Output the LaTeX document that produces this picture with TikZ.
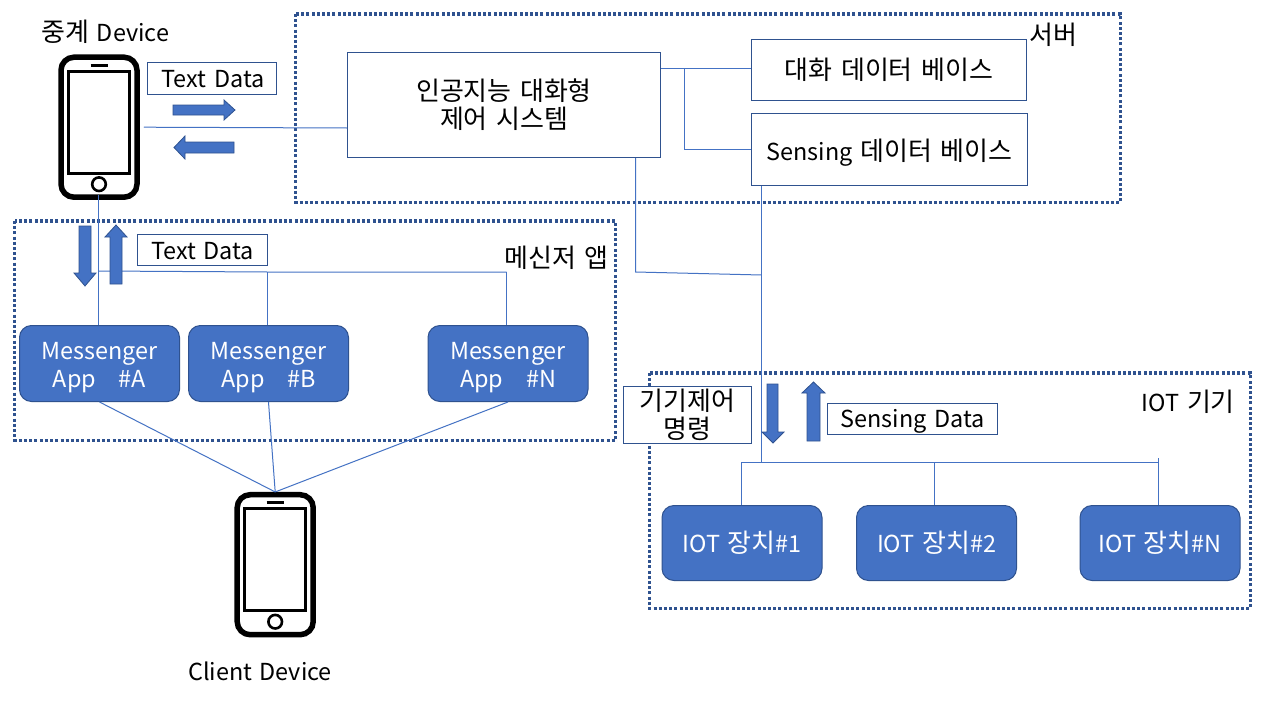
\documentclass[tikz,border=0pt]{standalone}
\usepackage{fontspec}
\setmainfont{Noto Sans CJK KR}[WordSpace=1.45]
\newfontfamily\kofont{Noto Sans CJK KR}[Scale=1.11,WordSpace=1.45]
\newcommand{\ko}[1]{{\kofont #1}}
\newcommand{\dn}[2][2]{\raisebox{-#1pt}[\height][\depth]{#2}}
\definecolor{fillblue}{HTML}{4472C4}
\definecolor{edgeblue}{HTML}{2F528F}
\tikzset{
  frame/.style={draw=edgeblue,line width=3.2pt,dash pattern=on 3pt off 2.2pt},
  conn/.style={draw=fillblue,line width=1pt},
  label/.style={inner sep=0pt,font=\fontsize{23.4}{28}\selectfont,text=black,align=center},
  whitebox/.style={draw=edgeblue,line width=1pt,fill=white,inner sep=0pt,font=\fontsize{23.4}{28}\selectfont,align=center,text=black},
  bluebox/.style={draw=edgeblue,line width=1pt,fill=fillblue,rounded corners=12pt,inner sep=0pt,minimum width=160pt,minimum height=76pt,font=\fontsize{23.4}{28}\selectfont,text=white,align=center},
  blockarrow/.style={draw=edgeblue,line width=0.8pt,fill=fillblue},
  phonebody/.style={draw=black,line width=5.5pt,rounded corners=13pt,minimum width=76pt,minimum height=140pt,inner sep=0pt,fill=white},
  phonepart/.style={draw=black,line width=2.6pt}
}
\newcommand{\phonedetail}[1]{%
  \draw[phonepart] ([shift={(-30.5,-56)}]#1.center) rectangle ([shift={(30.5,46)}]#1.center);
  \draw[phonepart] ([shift={(0,57)}]#1.center) circle (6.8pt);
  \draw[phonepart] ([shift={(-8.5,-62)}]#1.center) -- ([shift={(8.5,-62)}]#1.center);
}
\begin{document}
\begin{tikzpicture}[x=1pt,y=-1pt]
\useasboundingbox (0,0) rectangle (1280,720);
\fill[white] (0,0) rectangle (1280,720);
% frames
\draw[frame] (295.8,13.9) rectangle (1120.3,202.4);
\draw[frame] (14.8,220.9) rectangle (615.3,440.4);
\draw[frame] (649.8,372.9) rectangle (1250.3,608.4);
% phones
\node[phonebody] (phoneA) at (99,127.2) {};
\phonedetail{phoneA}
\node[phonebody] (phoneB) at (275.2,564.7) {};
\phonedetail{phoneB}
% boxes
\begin{scope}[shift={(0.5,0.5)}]
\node[whitebox,minimum width=313pt,minimum height=105pt] (ai) at (503.5,104.5) {\ko{인공지능 대화형}\\\ko{제어 시스템}};
\node[whitebox,minimum width=275pt,minimum height=61pt] (chatdb) at (888.5,69.5) {\ko{대화 데이터 베이스}};
\node[whitebox,minimum width=276pt,minimum height=72pt] (sensedb) at (889,149) {\dn[3]{Sensing \ko{데이터 베이스}}};
\node[bluebox] (mA) at (99,363) {\dn[3.8]{Messenger}\\\dn[3.8]{App \ \ \#A}};
\node[bluebox] (mB) at (268,363) {\dn[3.8]{Messenger}\\\dn[3.8]{App \ \ \#B}};
\node[bluebox] (mN) at (507.5,363) {\dn[3.8]{Messenger}\\\dn[3.8]{App \ \ \#N}};
\node[bluebox,minimum height=75pt] (iot1) at (741.5,542.5) {\dn[0]{IOT \ko{장치}\#1}};
\node[bluebox,minimum height=75pt] (iot2) at (936,542.5) {\dn[0]{IOT \ko{장치}\#2}};
\node[bluebox,minimum height=75pt] (iotN) at (1159.5,542.5) {\dn[0]{IOT \ko{장치}\#N}};
\end{scope}
% junctions
\coordinate (busA) at (98.5,271);
\coordinate (busB) at (267.5,272);
\coordinate (busN) at (506.5,272);
\coordinate (aiDown) at (635.5,272);
\coordinate (aiJoin) at (761.5,275);
\coordinate (dbFork) at (684.5,68);
\coordinate (dbElbow) at (684.5,149);
\coordinate (iotBus1) at (741.5,462);
\coordinate (iotBus2) at (934.5,462);
\coordinate (iotBusN) at (1158.5,462);
\coordinate (iotEnd) at (761.5,463);
% connectors
\draw[conn] ([xshift=4pt]phoneA.east) -- (ai.west |- 0,128);
\draw[conn] ([yshift=5pt]phoneA.south -| busA) -- (mA.north -| busA);
\draw[conn] (busA) -- (busB) -- (busN);
\draw[conn] (busB) -- (mB.north -| busB);
\draw[conn] (busN) -- (mN.north -| busN);
\draw[conn] (mA.south) -- (phoneB.north);
\draw[conn] (mB.south) -- (phoneB.north);
\draw[conn] (mN.south) -- (phoneB.north);
\draw[conn] (ai.east |- dbFork) -- (chatdb.west |- dbFork);
\draw[conn] (dbFork) -- (dbElbow) -- (sensedb.west |- dbElbow);
\draw[conn] (ai.south -| aiDown) -- (aiDown) -- (aiJoin);
\draw[conn] (sensedb.south -| iotEnd) -- (iotEnd);
\draw[conn] (iotBus1) -- (iotBusN);
\draw[conn] (iotBus1) -- (iot1.north -| iotBus1);
\draw[conn] (iotBus2 |- 0,463) -- (iot2.north -| iotBus2);
\draw[conn] (iotBusN |- 0,458) -- (iotN.north -| iotBusN);
% small label boxes
\begin{scope}[shift={(0.5,0.5)}]
\node[whitebox,minimum width=129pt,minimum height=32pt] (td1) at (211.5,78) {\hspace{2pt}\dn[1]{Text Data}};
\node[whitebox,minimum width=130pt,minimum height=31pt] (td2) at (202,249.5) {\dn[1.5]{Text Data}};
\node[whitebox,minimum width=128pt,minimum height=57pt] (cmd) at (687,414.5) {\ko{기기제어}\\\ko{명령}};
\node[whitebox,minimum width=170pt,minimum height=31pt] (sd) at (912,418.5) {\dn[2.7]{Sensing Data}};
\end{scope}
% block arrows
\draw[blockarrow] (173,105) -- (224,105) -- (224,100) -- (235,110) -- (224,120) -- (224,115) -- (173,115) -- cycle;
\draw[blockarrow] (234,142) -- (185,142) -- (185,136) -- (174,147.5) -- (185,159) -- (185,153) -- (234,153) -- cycle;
\draw[blockarrow] (79,226) -- (91,226) -- (91,273) -- (96,273) -- (85,286) -- (74,273) -- (79,273) -- cycle;
\draw[blockarrow] (110,284) -- (122,284) -- (122,237) -- (127,237) -- (116,225) -- (105,237) -- (110,237) -- cycle;
\draw[blockarrow] (767,384) -- (778,384) -- (778,432) -- (784,432) -- (773,443) -- (762,432) -- (767,432) -- cycle;
\draw[blockarrow] (807,441) -- (820,441) -- (820,393) -- (825,393) -- (813.5,382) -- (802,393) -- (807,393) -- cycle;
% free labels
\node[label] (lblRelay) at (105.3,32) {\ko{중계} Device};
\node[label] (lblServer) at (1053.8,35) {\ko{서버}};
\node[label] (lblMsg) at (556.8,258) {\ko{메신저 앱}};
\node[label] (lblIot) at (1188.3,402) {IOT \ko{기기}};
\node[label] (lblClient) at (260,671.7) {Client Device};
\end{tikzpicture}
\end{document}
